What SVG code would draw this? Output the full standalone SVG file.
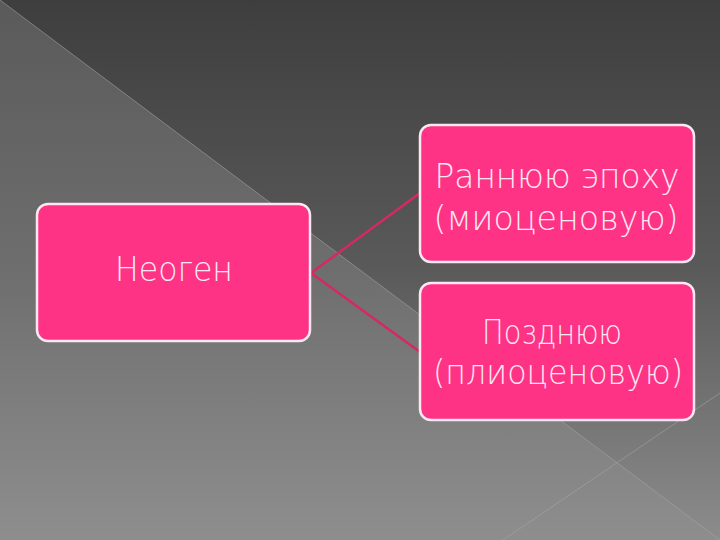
<svg xmlns="http://www.w3.org/2000/svg" width="720" height="540" viewBox="0 0 720 540">
  <defs>
    <linearGradient id="bgDark" x1="0" y1="0" x2="0" y2="1">
      <stop offset="0" stop-color="#3e3e3e"/>
      <stop offset="0.5" stop-color="#5a5a5a"/>
      <stop offset="1" stop-color="#8c8c8c"/>
    </linearGradient>
    <linearGradient id="bgLight" x1="0" y1="0" x2="0" y2="1">
      <stop offset="0" stop-color="#5a5a5a"/>
      <stop offset="0.5" stop-color="#6e6e6e"/>
      <stop offset="1" stop-color="#8e8e8e"/>
    </linearGradient>
    <style>
      .box { fill: #ff3385; stroke: #fbe8f1; stroke-width: 2.5; }
      .lbl { font-family: "DejaVu Sans", "Liberation Sans", sans-serif; font-weight: 200; font-size: 33px; fill: #fde8f2; text-anchor: middle; }
      .conn { stroke: #d42a60; stroke-width: 2.5; fill: none; }
      .deco { stroke: #a8a8a8; stroke-opacity: 0.55; stroke-width: 1; fill: none; }
    </style>
  </defs>

  <rect x="0" y="0" width="720" height="540" fill="url(#bgDark)"/>
  <polygon points="0,0 720,540 0,540" fill="url(#bgLight)"/>
  <line class="deco" x1="0" y1="0" x2="720" y2="540"/>
  <line class="deco" x1="720" y1="393" x2="503" y2="540"/>

  <g id="connectors">
    <line class="conn" x1="311" y1="273" x2="420" y2="193"/>
    <line class="conn" x1="311" y1="273" x2="420" y2="352"/>
  </g>

  <g id="node-neogen">
    <rect class="box" x="37" y="204" width="273" height="137" rx="11"/>
    <text class="lbl" x="174" y="281" textLength="118" lengthAdjust="spacingAndGlyphs">Неоген</text>
  </g>

  <g id="node-miocene">
    <rect class="box" x="420" y="125" width="274" height="137" rx="11"/>
    <text class="lbl" x="557" y="188" textLength="245" lengthAdjust="spacingAndGlyphs">Раннюю эпоху</text>
    <text class="lbl" x="556" y="230" textLength="245" lengthAdjust="spacingAndGlyphs">(миоценовую)</text>
  </g>

  <g id="node-pliocene">
    <rect class="box" x="420" y="283" width="274" height="137" rx="11"/>
    <text class="lbl" x="552" y="344" textLength="140" lengthAdjust="spacingAndGlyphs">Позднюю</text>
    <text class="lbl" x="558" y="384" textLength="250" lengthAdjust="spacingAndGlyphs">(плиоценовую)</text>
  </g>
</svg>
